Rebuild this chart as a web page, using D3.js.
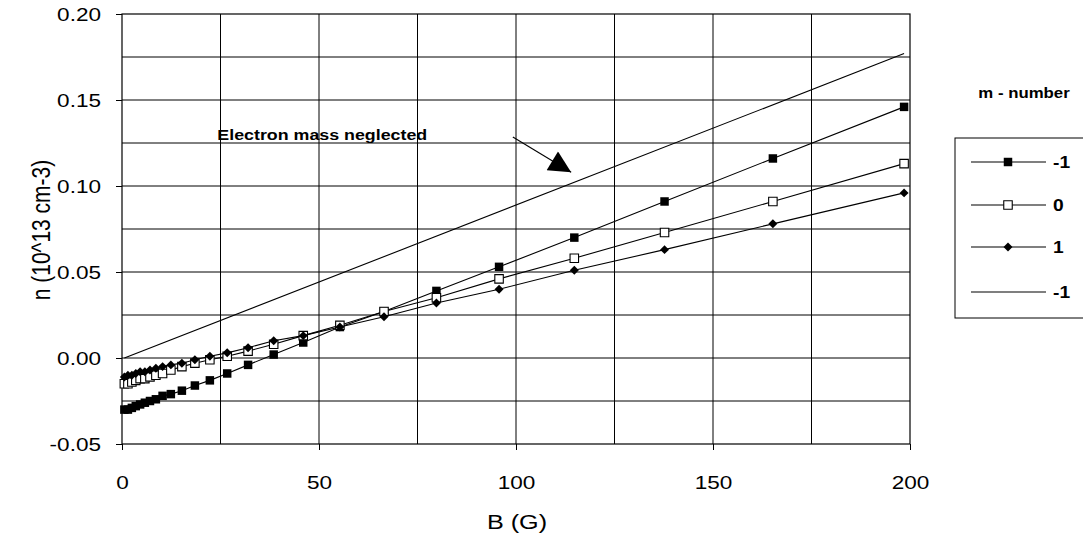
<!DOCTYPE html>
<html>
<head>
<meta charset="utf-8">
<script src="https://cdn.jsdelivr.net/npm/d3@7"></script>
<style>
body { margin: 0; background: #fff; }
text { font-family: "Liberation Sans", Arial, sans-serif; fill: #000; }
</style>
</head>
<body>
<div id="chart"></div>
<script>
// B field (G) where n was computed
var bField = [0.6, 1.5, 2.5, 3.5, 4.6, 5.8, 7.1, 8.6, 10.3, 12.4, 15.2, 18.5, 22.3, 26.7,
    32.0, 38.5, 46.0, 55.3, 66.5, 79.8, 95.7, 114.8, 137.7, 165.2, 198.5];
// n (10^13 cm-3) for each m-number
var nMinus1 = [-0.030, -0.030, -0.029, -0.028, -0.027, -0.026, -0.025, -0.024, -0.022, -0.021,
    -0.019, -0.016, -0.013, -0.009, -0.004, 0.002, 0.009, 0.018, 0.027, 0.039, 0.053, 0.070,
    0.091, 0.116, 0.146];
var nZero = [-0.015, -0.015, -0.014, -0.013, -0.012, -0.012, -0.011, -0.010, -0.009, -0.007,
    -0.005, -0.003, -0.001, 0.001, 0.004, 0.008, 0.013, 0.019, 0.027, 0.035, 0.046, 0.058,
    0.073, 0.091, 0.113];
var nPlus1 = [-0.011, -0.010, -0.010, -0.009, -0.008, -0.008, -0.007, -0.006, -0.005, -0.004,
    -0.003, -0.001, 0.001, 0.003, 0.006, 0.010, 0.013, 0.018, 0.024, 0.032, 0.040, 0.051,
    0.063, 0.078, 0.096];
// electron mass neglected, m = -1
var bNeglect = [0.6, 198.5];
var nNeglect = [0.000, 0.177];

var xTicks = [0, 50, 100, 150, 200];
var yTicks = [-0.05, 0, 0.05, 0.10, 0.15, 0.20];
var xGrid = [25, 50, 75, 100, 125, 150, 175];
var yGrid = [-0.025, 0, 0.025, 0.05, 0.075, 0.10, 0.125, 0.15, 0.175];
var legendLabels = ["-1", "0", "1", "-1"];
var legendTitle = "m - number";
var noteText = "Electron mass neglected";
var noteFrom = [99.2, 0.1285];
var noteTo = [114, 0.108];

var width = 1083, height = 540;

var svg = d3.select("#chart").append("svg")
    .attr("width", width)
    .attr("height", height);

var x = d3.scaleLinear().domain([0, 200]).range([122, 910]);
var y = d3.scaleLinear().domain([-0.05, 0.20]).range([444, 14]);

// grid
svg.append("g").selectAll("line")
    .data(yGrid).enter().append("line")
    .attr("x1", x(0)).attr("x2", x(200))
    .attr("y1", d => y(d)).attr("y2", d => y(d))
    .attr("stroke", "#000").attr("stroke-width", 1);
svg.append("g").selectAll("line")
    .data(xGrid).enter().append("line")
    .attr("y1", y(-0.05)).attr("y2", y(0.20))
    .attr("x1", d => x(d)).attr("x2", d => x(d))
    .attr("stroke", "#000").attr("stroke-width", 1);

svg.append("rect")
    .attr("x", x(0)).attr("y", y(0.20))
    .attr("width", x(200) - x(0)).attr("height", y(-0.05) - y(0.20))
    .attr("fill", "none").attr("stroke", "#000").attr("stroke-width", 1.2);

// axes
var fmt = d3.format(".2f");
var yAxis = svg.append("g")
    .attr("transform", "translate(" + x(0) + ",0)")
    .call(d3.axisLeft(y).tickValues(yTicks)
        .tickFormat(d => fmt(d).replace("\u2212", "-")).tickSize(6));
yAxis.select(".domain").remove();
yAxis.selectAll("text")
    .attr("x", 0).attr("dy", "0.36em")
    .attr("transform", "translate(-21,0) scale(1.22,1)")
    .style("font-size", "18.5px");

var xAxis = svg.append("g")
    .attr("transform", "translate(0," + y(-0.05) + ")")
    .call(d3.axisBottom(x).tickValues(xTicks).tickFormat(d3.format("d")).tickSize(6));
xAxis.select(".domain").remove();
xAxis.selectAll("text")
    .attr("y", 0).attr("dy", 0)
    .attr("transform", "translate(0,45) scale(1.22,1)")
    .style("font-size", "18.5px");
svg.selectAll(".tick line").attr("stroke", "#000");

svg.append("text")
    .attr("transform", "translate(517,529) scale(1.2,1)")
    .attr("text-anchor", "middle")
    .style("font-size", "21px")
    .text("B (G)");
svg.append("text")
    .attr("transform", "translate(50,230) rotate(-90) scale(1,1.2)")
    .attr("text-anchor", "middle")
    .style("font-size", "21px")
    .text("n (10^13 cm-3)");

// series
var series = [
    { b: bNeglect, n: nNeglect, marker: null },
    { b: bField, n: nMinus1, marker: "filled" },
    { b: bField, n: nZero, marker: "open" },
    { b: bField, n: nPlus1, marker: "diamond" }
];

var line = d3.line()
    .x(d => x(d[0]))
    .y(d => y(d[1]));

var square = d3.symbol().type(d3.symbolSquare).size(72);
var diamond = d3.symbol().type(d3.symbolSquare).size(40);

function drawMarker(sel, kind) {
    if (kind === "filled") {
        sel.append("path").attr("d", square).attr("fill", "#000");
    } else if (kind === "open") {
        sel.append("path").attr("d", square).attr("fill", "#fff")
            .attr("stroke", "#000").attr("stroke-width", 1.1);
    } else if (kind === "diamond") {
        sel.append("path").attr("d", diamond).attr("fill", "#000")
            .attr("transform", "rotate(45)");
    }
}

series.forEach(function(s) {
    var pts = s.b.map((b, i) => [b, s.n[i]]);
    svg.append("path")
        .attr("d", line(pts))
        .attr("fill", "none")
        .attr("stroke", "#000")
        .attr("stroke-width", 1.1);
    if (s.marker) {
        svg.append("g").selectAll("g")
            .data(pts).enter().append("g")
            .attr("transform", d => "translate(" + x(d[0]) + "," + y(d[1]) + ")")
            .each(function() { drawMarker(d3.select(this), s.marker); });
    }
});

// annotation
svg.append("text")
    .attr("transform", "translate(" + x(24.2) + "," + y(0.1265) + ") scale(1.15,1)")
    .style("font-size", "15.5px")
    .style("font-weight", "bold")
    .text(noteText);
svg.append("defs").append("marker")
    .attr("id", "head")
    .attr("viewBox", "0 0 10 10")
    .attr("refX", 10).attr("refY", 5)
    .attr("markerUnits", "userSpaceOnUse")
    .attr("markerWidth", 24).attr("markerHeight", 22)
    .attr("orient", "auto")
    .append("path").attr("d", "M0,0L10,5L0,10Z").attr("fill", "#000");
svg.append("line")
    .attr("x1", x(noteFrom[0])).attr("y1", y(noteFrom[1]))
    .attr("x2", x(noteTo[0])).attr("y2", y(noteTo[1]))
    .attr("stroke", "#000").attr("stroke-width", 1.1)
    .attr("marker-end", "url(#head)");

// legend
svg.append("text")
    .attr("transform", "translate(1024,98) scale(1.2,1)")
    .attr("text-anchor", "middle")
    .style("font-size", "14px")
    .style("font-weight", "bold")
    .text(legendTitle);

var legend = svg.append("g");
legend.append("rect")
    .attr("x", 955).attr("y", 138)
    .attr("width", 150).attr("height", 180)
    .attr("fill", "#fff").attr("stroke", "#000").attr("stroke-width", 1);

var legendRows = [162, 205, 247, 292];
var legendMarkers = ["filled", "open", "diamond", null];
legendLabels.forEach(function(lbl, i) {
    var row = legend.append("g").attr("transform", "translate(0," + legendRows[i] + ")");
    row.append("line")
        .attr("x1", 971).attr("x2", 1046)
        .attr("stroke", "#000").attr("stroke-width", 1.1);
    var m = row.append("g").attr("transform", "translate(1008,0)");
    drawMarker(m, legendMarkers[i]);
    row.append("text")
        .attr("transform", "translate(1053,6) scale(1.2,1)")
        .style("font-size", "16px")
        .style("font-weight", "bold")
        .text(lbl);
});
</script>
</body>
</html>
